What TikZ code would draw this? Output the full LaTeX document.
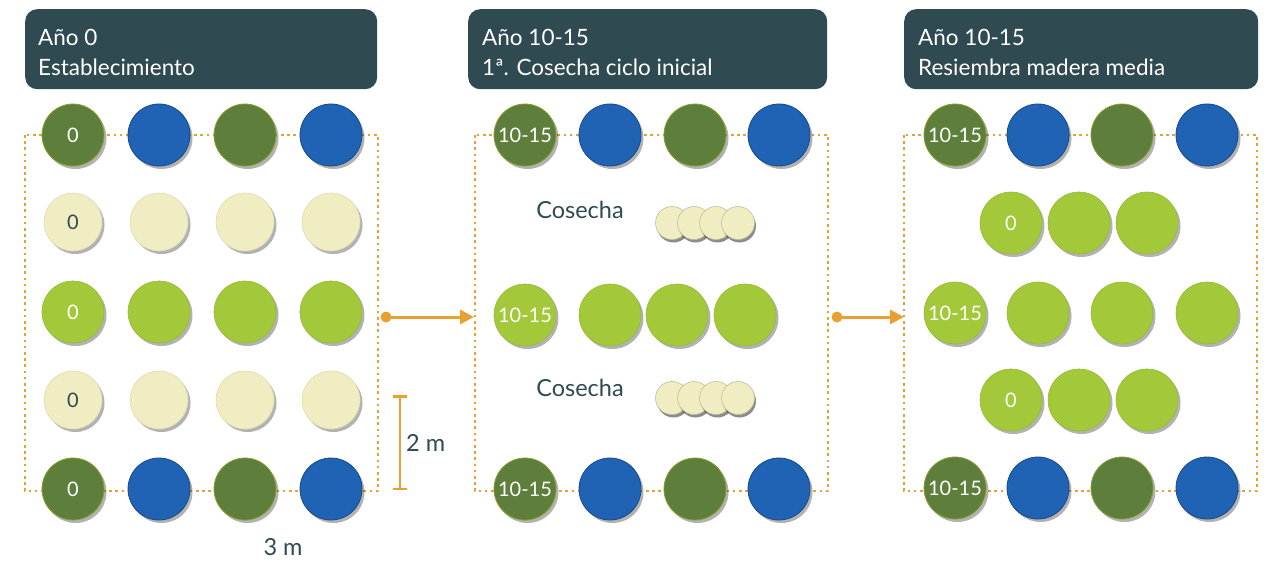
\documentclass[tikz,border=0pt]{standalone}
\usepackage{fontspec}
\setmainfont{Lato}
\usetikzlibrary{shadows,arrows.meta}
\definecolor{hdr}{HTML}{2F4A51}
\definecolor{dkg}{HTML}{5E7F3C}
\definecolor{blu}{HTML}{2062B4}
\definecolor{lgr}{HTML}{A3C93A}
\definecolor{crm}{HTML}{F1EDC2}
\definecolor{org}{HTML}{E9A030}
\definecolor{txt}{HTML}{2F4A51}
\tikzset{
 tree/.style={circle, minimum size=62pt, inner sep=0pt, drop shadow={shadow xshift=2.5pt, shadow yshift=-3pt, opacity=0.3, fill=black}, font=\fontsize{20}{20}\selectfont, text=white},
 dg/.style={tree, fill=dkg, draw=dkg!75!yellow, line width=0.8pt},
 bl/.style={tree, fill=blu, draw=blu!75!black, line width=0.8pt},
 lg/.style={tree, fill=lgr, draw=lgr!92!black, line width=0.6pt},
 cr/.style={tree, fill=crm, minimum size=58pt, text=txt, draw=crm!92!black, line width=0.6pt},
 pile/.style={circle, minimum size=33pt, inner sep=0pt, fill=crm, draw=crm!80!black, line width=0.6pt, drop shadow={shadow xshift=1.5pt, shadow yshift=-3pt, opacity=0.45, fill=black}},
 frame/.style={draw=org, line width=2.6pt, dash pattern=on 2.6pt off 3.6pt},
 hbox/.style={fill=hdr, rounded corners=12pt, minimum width=352pt, minimum height=80pt, anchor=north west, inner sep=0pt},
 htext/.style={text=white, font=\fontsize{22.5}{30}\selectfont, align=left, anchor=west, inner sep=0pt},
 lbl/.style={text=txt, font=\fontsize{23.5}{23.5}\selectfont, inner sep=0pt},
 flow/.style={draw=org, line width=3pt, -{Triangle[length=14pt,width=14pt]}},
 dotc/.style={circle, fill=org, minimum size=11pt, inner sep=0pt},
}
\begin{document}
\begin{tikzpicture}[x=1pt,y=-1pt]
\useasboundingbox (0,0) rectangle (1271,567);
% headers
\node[hbox] (h1) at (25,9) {};
\node[hbox, minimum width=359pt] (h2) at (468,9) {};
\node[hbox, minimum width=354pt] (h3) at (904,9) {};
\node[htext] (h1a) at (38,37) {Año 0};
\node[htext] (h1b) at (38,67) {Establecimiento};
\node[htext] (h2a) at (482,37) {Año 10-15};
\node[htext] (h2b) at (482,67) {1ª. Cosecha ciclo inicial};
\node[htext] (h3a) at (918,37) {Año 10-15};
\node[htext] (h3b) at (918,67) {Resiembra madera media};
% frames
\draw[frame] (25,135) rectangle (378,491);
\draw[frame] (475,135) rectangle (828,491);
\draw[frame] (904,135) rectangle (1257,491);
% panel 1
\foreach \x/\i in {73/1,159/2,245/3,331/4}{
  \node[cr] (a2\i) at (\x,222) {};
  \node[lg] (a3\i) at (\x,312) {};
  \node[cr] (a4\i) at (\x,400) {};
}
\node[dg] (a11) at (73,135) {0};
\node[bl] (a12) at (159,135) {};
\node[dg] (a13) at (245,135) {};
\node[bl] (a14) at (331,135) {};
\node[dg] (a51) at (73,489) {0};
\node[bl] (a52) at (159,489) {};
\node[dg] (a53) at (245,489) {};
\node[bl] (a54) at (331,489) {};
\node[text=txt, font=\fontsize{20}{20}\selectfont] at (a21) {0};
\node[text=white, font=\fontsize{20}{20}\selectfont] at (a31) {0};
\node[text=txt, font=\fontsize{20}{20}\selectfont] at (a41) {0};
% panel 2
\node[dg] (b11) at (525,135) {10-15};
\node[bl] (b12) at (610,135) {};
\node[dg] (b13) at (695,135) {};
\node[bl] (b14) at (779,135) {};
\node[lbl] (c1) at (580,210) {Cosecha};
\foreach \x/\i in {672/1,694/2,716/3,738/4}{\node[pile] (p1\i) at (\x,223) {};}
\node[lg] (b31) at (525,315) {10-15};
\node[lg] (b32) at (610,315) {};
\node[lg] (b33) at (677,315) {};
\node[lg] (b34) at (745,315) {};
\node[lbl] (c2) at (580,388) {Cosecha};
\foreach \x/\i in {672/1,694/2,716/3,738/4}{\node[pile] (p2\i) at (\x,398) {};}
\node[dg] (b51) at (525,489) {10-15};
\node[bl] (b52) at (610,489) {};
\node[dg] (b53) at (695,489) {};
\node[bl] (b54) at (779,489) {};
% panel 3
\node[dg] (d11) at (955,135) {10-15};
\node[bl] (d12) at (1038,135) {};
\node[dg] (d13) at (1122,135) {};
\node[bl] (d14) at (1207,135) {};
\node[lg] (d21) at (1011,223) {0};
\node[lg] (d22) at (1079,223) {};
\node[lg] (d23) at (1147,223) {};
\node[lg] (d31) at (955,313) {10-15};
\node[lg] (d32) at (1038,313) {};
\node[lg] (d33) at (1122,313) {};
\node[lg] (d34) at (1207,313) {};
\node[lg] (d41) at (1011,400) {0};
\node[lg] (d42) at (1079,400) {};
\node[lg] (d43) at (1147,400) {};
\node[dg] (d51) at (955,488) {10-15};
\node[bl] (d52) at (1038,488) {};
\node[dg] (d53) at (1122,488) {};
\node[bl] (d54) at (1207,488) {};
% flow arrows
\node[dotc] (s1) at (386,317) {};
\coordinate (t1) at (474,317);
\draw[flow] (s1.center) -- (t1);
\node[dotc] (s2) at (837,317) {};
\coordinate (t2) at (904,317);
\draw[flow] (s2.center) -- (t2);
% dimensions
\coordinate (m1) at (400,395);
\coordinate (m2) at (400,490);
\draw[draw=org, line width=2.5pt, {Bar[width=14pt]}-{Bar[width=14pt]}] (m1) -- (m2);
\node[lbl, anchor=west] (dm2) at (406,443) {2 m};
\node[lbl] (dm3) at (283,547) {3 m};
\end{tikzpicture}
\end{document}
